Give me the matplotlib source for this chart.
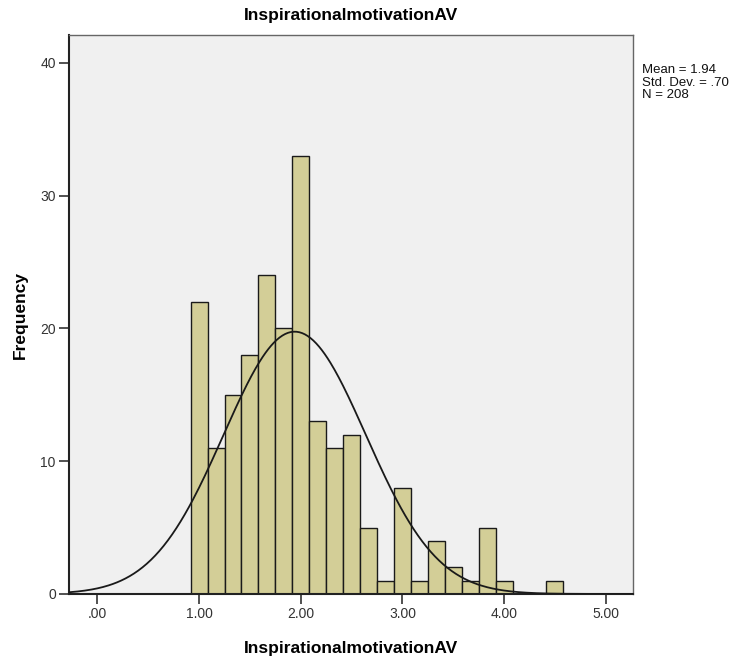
import numpy as np
import matplotlib
matplotlib.use('Agg')
import matplotlib.pyplot as plt

plt.rcParams['font.family'] = ['Liberation Sans', 'DejaVu Sans']

# Histogram data (bins of width 1/6, centres from 1.00 to 4.50)
bin_centers = [1.0 + i / 6 for i in range(22)]
counts = [22, 11, 15, 18, 24, 20, 33, 13, 11, 12, 5, 1,
          8, 1, 4, 2, 1, 5, 1, 0, 0, 1]
bin_width = 1 / 6

mean = 1.94
std = 0.70
n = 208

x_ticks = [0, 1, 2, 3, 4, 5]
x_tick_labels = ['.00', '1.00', '2.00', '3.00', '4.00', '5.00']
y_ticks = [0, 10, 20, 30, 40]

fig = plt.figure(figsize=(7.43, 6.61), dpi=100)
ax = fig.add_axes([0.0929, 0.1014, 0.7586, 0.8456])
ax.set_facecolor('#f0f0f0')

ax.bar(bin_centers, counts, width=bin_width, color='#d3ce97',
       edgecolor='#1a1a1a', linewidth=1.0, zorder=2)

# normal curve scaled to counts
xs = np.linspace(-0.28, 5.265, 400)
ys = n * bin_width / (std * np.sqrt(2 * np.pi)) * np.exp(-0.5 * ((xs - mean) / std) ** 2)
ax.plot(xs, ys, color='#1a1a1a', linewidth=1.3, zorder=3)

ax.set_xlim(-0.28, 5.265)
ax.set_ylim(0, 42.1)
ax.set_xticks(x_ticks)
ax.set_xticklabels(x_tick_labels)
ax.set_yticks(y_ticks)
ax.tick_params(axis='both', direction='out', length=7.5, width=1.2, pad=2,
               labelsize=10, labelcolor='#333333', color='#333333')

for sp in ax.spines.values():
    sp.set_color('#666666')
    sp.set_linewidth(1.0)
ax.spines['left'].set_color('#222222')
ax.spines['bottom'].set_color('#222222')
ax.spines['left'].set_linewidth(1.5)
ax.spines['bottom'].set_linewidth(1.5)

ax.set_title('InspirationalmotivationAV', fontsize=12.5, fontweight='bold', pad=11)
ax.set_xlabel('InspirationalmotivationAV', fontsize=12.5, fontweight='bold', labelpad=14)
ax.set_ylabel('Frequency', fontsize=12.5, fontweight='bold', labelpad=9)

fig.text(0.864, 0.903, 'Mean = 1.94\nStd. Dev. = .70\nN = 208', fontsize=9.5,
         va='top', ha='left', linespacing=1.05, color='#111111')

fig.savefig('out.png', dpi=100, facecolor='white')
